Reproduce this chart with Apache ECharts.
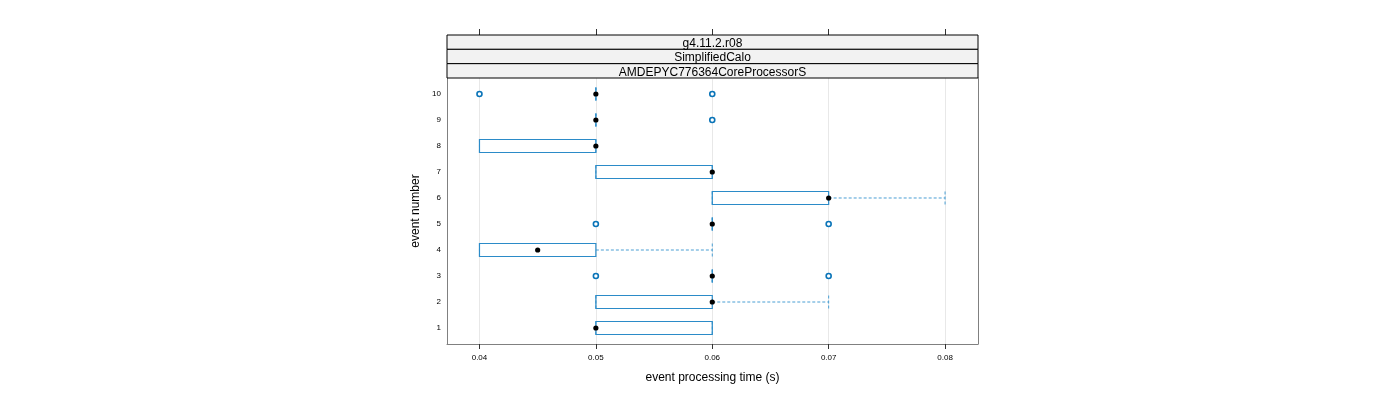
<!DOCTYPE html>
<html>
<head>
<meta charset="utf-8">
<script src="https://cdn.jsdelivr.net/npm/echarts@6/dist/echarts.min.js"></script>
<style>html,body{margin:0;padding:0;background:#fff}#c{width:1400px;height:400px}</style>
</head>
<body>
<div id="c"></div>
<script>
// ---- data ----
const events = [1, 2, 3, 4, 5, 6, 7, 8, 9, 10];
const q1 = [0.05, 0.05, 0.06, 0.04, 0.06, 0.06, 0.05, 0.04, 0.05, 0.05];
const medians = [0.05, 0.06, 0.06, 0.045, 0.06, 0.07, 0.06, 0.05, 0.05, 0.05];
const q3 = [0.06, 0.06, 0.06, 0.05, 0.06, 0.07, 0.06, 0.05, 0.05, 0.05];
const whiskerLow = [0.05, 0.05, 0.06, 0.04, 0.06, 0.06, 0.05, 0.04, 0.05, 0.05];
const whiskerHigh = [0.06, 0.07, 0.06, 0.06, 0.06, 0.08, 0.06, 0.05, 0.05, 0.05];
const outlierEvents = [3, 3, 5, 5, 9, 10, 10];
const outlierValues = [0.05, 0.07, 0.05, 0.07, 0.06, 0.04, 0.06];
const xTicks = [0.04, 0.05, 0.06, 0.07, 0.08];
const stripLabels = ['g4.11.2.r08', 'SimplifiedCalo', 'AMDEPYC776364CoreProcessorS'];

const boxData = events.map((e, i) => [e, q1[i], medians[i], q3[i], whiskerLow[i], whiskerHigh[i]]);
const outlierData = outlierEvents.map((e, i) => [outlierValues[i], e]);

const BOX = '#2b8bc8';
const WHISK = '#4a9fd4';
const OUT = '#0a74b8';
const FONT = 'Liberation Sans, Arial, sans-serif';

const chart = echarts.init(document.getElementById('c'), null, {renderer: 'canvas'});

const GL = 447, GR = 978, GT = 78, GB = 344;
const stripH = (GT - 35) / 3;
const graphics = [];
stripLabels.forEach((t, i) => {
  const y = 35 + i * stripH;
  graphics.push({
    type: 'rect', shape: {x: GL, y: y, width: GR - GL, height: stripH},
    style: {fill: '#f2f2f2', stroke: '#000', lineWidth: 1}, z: 10
  });
  graphics.push({
    type: 'text', x: (GL + GR) / 2, y: y + stripH / 2 + 1.5,
    style: {text: t, font: '12px ' + FONT, fill: '#000', textAlign: 'center', textVerticalAlign: 'middle'}, z: 11
  });
});

function renderBox(params, api) {
  const ev = api.value(0);
  const lo = api.coord([api.value(1), ev]);
  const med = api.coord([api.value(2), ev]);
  const hi = api.coord([api.value(3), ev]);
  const wl = api.coord([api.value(4), ev]);
  const wh = api.coord([api.value(5), ev]);
  const h = 6.5;
  const y = lo[1];
  const children = [];
  const dash = {stroke: WHISK, lineWidth: 1, lineDash: [3, 2]};
  if (wh[0] > hi[0]) {
    children.push({type: 'line', shape: {x1: hi[0], y1: y, x2: wh[0], y2: y}, style: dash});
  }
  if (wl[0] < lo[0]) {
    children.push({type: 'line', shape: {x1: wl[0], y1: y, x2: lo[0], y2: y}, style: dash});
  }
  children.push({type: 'line', shape: {x1: wh[0], y1: y - h, x2: wh[0], y2: y + h}, style: dash});
  children.push({type: 'line', shape: {x1: wl[0], y1: y - h, x2: wl[0], y2: y + h}, style: dash});
  children.push({
    type: 'rect', shape: {x: lo[0], y: y - h, width: hi[0] - lo[0], height: 2 * h},
    style: {fill: 'rgba(0,0,0,0)', stroke: BOX, lineWidth: 1.2}
  });
  children.push({type: 'circle', shape: {cx: med[0], cy: y, r: 2.6}, style: {fill: '#000'}});
  return {type: 'group', children: children};
}

chart.setOption({
  animation: false,
  backgroundColor: '#fff',
  grid: {left: GL, right: 1400 - GR, top: GT, bottom: 400 - GB, show: false},
  xAxis: [{
    type: 'value', min: 0.03721, max: 0.08283, position: 'bottom',
    name: 'event processing time (s)', nameLocation: 'middle', nameGap: 28,
    nameTextStyle: {fontSize: 12, fontFamily: FONT, color: '#000'},
    axisLine: {show: true, onZero: false, lineStyle: {color: '#808080', width: 1}},
    axisTick: {show: true, length: 5, customValues: xTicks, lineStyle: {color: '#333'}},
    axisLabel: {customValues: xTicks, fontSize: 8, fontFamily: FONT, color: '#000', margin: 10,
      formatter: v => v.toFixed(2)},
    splitLine: {show: true, lineStyle: {color: '#e8e8e8', width: 1}}
  }, {
    type: 'value', min: 0.03721, max: 0.08283, position: 'top', offset: GT - 35,
    axisLine: {show: false},
    axisTick: {show: true, length: 6, customValues: xTicks, lineStyle: {color: '#333'}},
    axisLabel: {show: false},
    splitLine: {show: false}
  }],
  yAxis: [{
    type: 'value', min: 0.385, max: 10.615, position: 'left',
    name: 'event number', nameLocation: 'middle', nameGap: 25, nameRotate: 90,
    nameTextStyle: {fontSize: 12, fontFamily: FONT, color: '#000'},
    axisLine: {show: true, onZero: false, lineStyle: {color: '#808080', width: 1}},
    axisTick: {show: false},
    axisLabel: {customValues: events, fontSize: 8, fontFamily: FONT, color: '#000', margin: 6,
      formatter: v => String(v)},
    splitLine: {show: false}
  }, {
    type: 'value', min: 0.385, max: 10.615, position: 'right',
    axisLine: {show: true, onZero: false, lineStyle: {color: '#808080', width: 1}},
    axisTick: {show: false}, axisLabel: {show: false}, splitLine: {show: false}
  }],
  graphic: graphics,
  series: [{
    type: 'custom', xAxisIndex: 0, yAxisIndex: 0,
    renderItem: renderBox,
    encode: {x: [1, 2, 3, 4, 5], y: 0},
    data: boxData, z: 3
  }, {
    type: 'scatter', xAxisIndex: 0, yAxisIndex: 0,
    symbol: 'circle', symbolSize: 5,
    itemStyle: {color: '#fff', borderColor: OUT, borderWidth: 1.6, opacity: 1},
    data: outlierData, z: 4
  }]
});
</script>
</body>
</html>
